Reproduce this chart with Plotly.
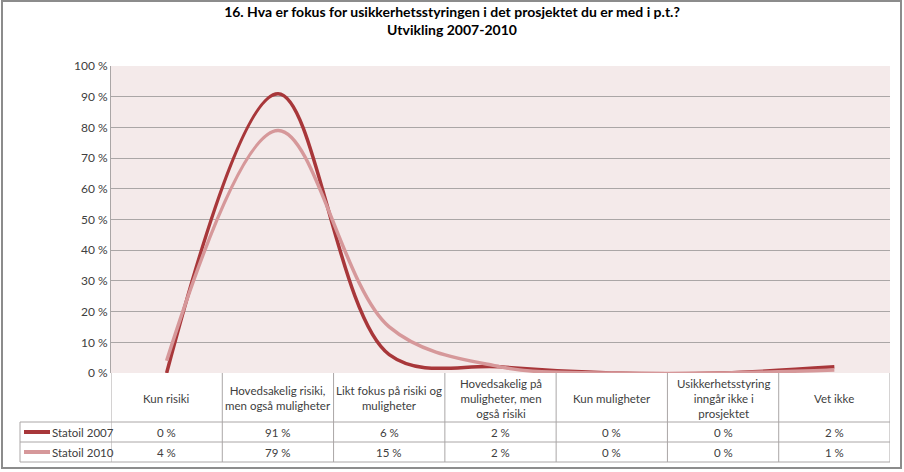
import plotly.graph_objects as go

categories = [
    "Kun risiki",
    "Hovedsakelig risiki,<br>men også muligheter",
    "Likt fokus på risiki og<br>muligheter",
    "Hovedsakelig på<br>muligheter, men<br>også risiki",
    "Kun muligheter",
    "Usikkerhetsstyring<br>inngår ikke i<br>prosjektet",
    "Vet ikke",
]
series_names = ["Statoil 2007", "Statoil 2010"]
statoil_2007 = [0, 91, 6, 2, 0, 0, 2]
statoil_2010 = [4, 79, 15, 2, 0, 0, 1]
y_ticks = [0, 10, 20, 30, 40, 50, 60, 70, 80, 90, 100]

colors = ["#A8373A", "#D6989A"]
font = "Lato, 'Open Sans', sans-serif"
grid_col = "#AAA6A6"
txt_col = "#404040"

# pixel geometry of the plot area (904x472 canvas)
L, R, T, B = 111, 890, 66, 373
W, H = R - L, B - T


def px_x(p):
    return (p - L) / W


def px_y(p):
    return (B - p) / H


fig = go.Figure()
xs = list(range(len(categories)))
for name, vals, col in zip(series_names, [statoil_2007, statoil_2010], colors):
    fig.add_trace(go.Scatter(
        x=xs, y=vals, name=name, mode="lines",
        line=dict(color=col, width=3.5, shape="spline", smoothing=1.0),
    ))

shapes = []
annotations = []

# outer chart border
shapes.append(dict(type="rect", xref="paper", yref="paper",
                   x0=px_x(2), x1=px_x(901), y0=px_y(468), y1=px_y(1),
                   line=dict(color="#8C8C8C", width=2), layer="above"))

# data table grid
for yy in [422, 442, 462]:
    shapes.append(dict(type="line", xref="paper", yref="paper",
                       x0=px_x(20), x1=1, y0=px_y(yy), y1=px_y(yy),
                       line=dict(color=grid_col, width=1)))
for i in range(len(categories) + 1):
    shapes.append(dict(type="line", xref="x", yref="paper",
                       x0=i - 0.5, x1=i - 0.5, y0=px_y(373), y1=px_y(462),
                       line=dict(color=grid_col, width=1)))
shapes.append(dict(type="line", xref="paper", yref="paper",
                   x0=px_x(20), x1=px_x(20), y0=px_y(422), y1=px_y(462),
                   line=dict(color=grid_col, width=1)))

# header row: category names
for i, c in enumerate(categories):
    annotations.append(dict(x=i, y=px_y(398), xref="x", yref="paper",
                            xanchor="center", yanchor="middle",
                            text=c, showarrow=False,
                            font=dict(size=11.5, color=txt_col, family=font)))

# value rows + legend keys
for name, vals, col, yc in zip(series_names, [statoil_2007, statoil_2010], colors, [432, 452]):
    for i, v in enumerate(vals):
        annotations.append(dict(x=i, y=px_y(yc), xref="x", yref="paper",
                                xanchor="center", yanchor="middle",
                                text=f"{v} %", showarrow=False,
                                font=dict(size=11.5, color=txt_col, family=font)))
    shapes.append(dict(type="line", xref="paper", yref="paper",
                       x0=px_x(24), x1=px_x(50), y0=px_y(yc), y1=px_y(yc),
                       line=dict(color=col, width=4)))
    annotations.append(dict(x=px_x(50), y=px_y(yc), xref="paper", yref="paper",
                            xanchor="left", yanchor="middle",
                            text=name, showarrow=False,
                            font=dict(size=11.5, color=txt_col, family=font)))

fig.update_layout(
    width=904, height=472,
    margin=dict(l=L, r=904 - R, t=T, b=472 - B),
    paper_bgcolor="white",
    plot_bgcolor="#F4EAEA",
    showlegend=False,
    title=dict(
        text="<b>16. Hva er fokus for usikkerhetsstyringen i det prosjektet du er med i p.t.?<br>Utvikling 2007-2010</b>",
        x=0.5, xanchor="center", xref="container",
        y=0.965, yanchor="top", yref="container",
        font=dict(size=14, color="#000000", family=font),
    ),
    xaxis=dict(range=[-0.5, len(categories) - 0.5], showticklabels=False,
               showgrid=False, zeroline=False, showline=False, ticks=""),
    yaxis=dict(range=[0, 100], tickvals=y_ticks,
               ticktext=[f"{t} %" for t in y_ticks],
               showgrid=True, gridcolor=grid_col, gridwidth=1,
               zeroline=False, showline=True, linecolor=grid_col,
               ticks="", tickfont=dict(size=12, color=txt_col, family=font)),
    shapes=shapes,
    annotations=annotations,
)

fig.write_html("out.html", config={"displayModeBar": False},
               post_script="document.body.style.margin='0px';")
